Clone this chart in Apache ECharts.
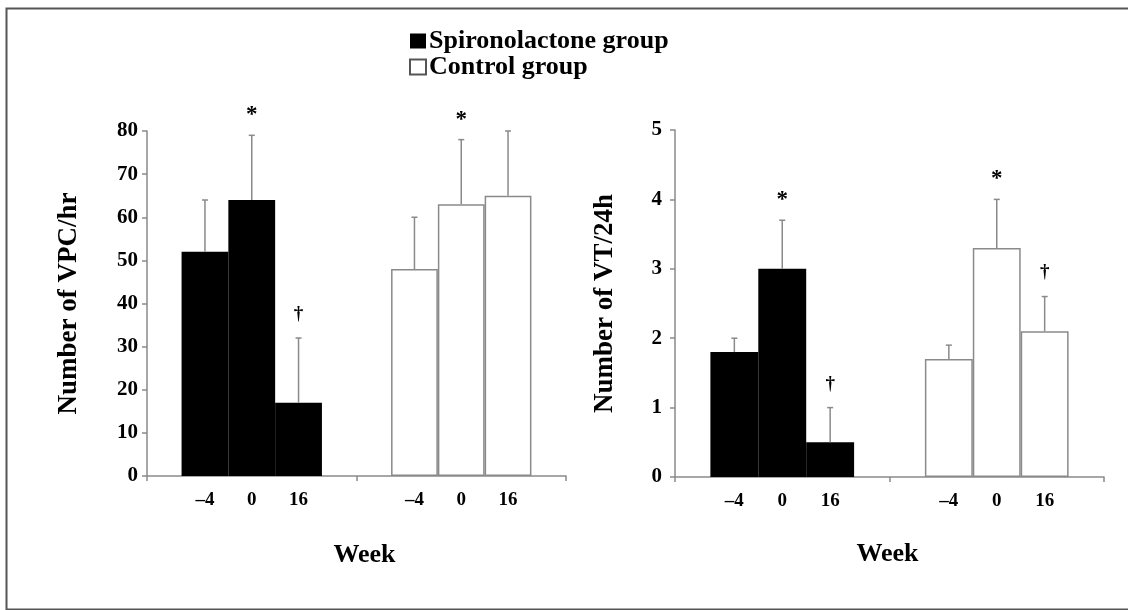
<!DOCTYPE html>
<html>
<head>
<meta charset="utf-8">
<script src="https://cdn.jsdelivr.net/npm/echarts@6/dist/echarts.min.js"></script>
<style>html,body{margin:0;padding:0;background:#fff}#c{width:1128px;height:610px}</style>
</head>
<body>
<div id="c"></div>
<script>
// ---- data ----
const groups = ['Spironolactone group', 'Control group'];
const weeks = ['\u20134', '0', '16'];
const vpcSpiro = [52, 64, 17];
const vpcSpiroErr = [64, 79, 32];
const vpcControl = [48, 63, 65];
const vpcControlErr = [60, 78, 80];
const vpcSpiroMarks = ['', '*', '\u2020'];
const vpcControlMarks = ['', '*', ''];
const vtSpiro = [1.8, 3.0, 0.5];
const vtSpiroErr = [2.0, 3.7, 1.0];
const vtControl = [1.7, 3.3, 2.1];
const vtControlErr = [1.9, 4.0, 2.6];
const vtSpiroMarks = ['', '*', '\u2020'];
const vtControlMarks = ['', '*', '\u2020'];
const vpcAxis = {min: 0, max: 80, interval: 10, name: 'Number of VPC/hr'};
const vtAxis = {min: 0, max: 5, interval: 1, name: 'Number of VT/24h'};
const xName = 'Week';

// ---- style ----
const FONT = '"Liberation Serif", "Times New Roman", serif';
const GAP = 0.33;
const AXIS_COLOR = '#8a8a8a';

const chart = echarts.init(document.getElementById('c'));

function panelSeries(idx, spiro, control, spiroErr, controlErr, spiroMarks, controlMarks) {
  const out = [];
  weeks.forEach((w, wi) => {
    out.push({
      type: 'bar', name: 'w' + idx + '_' + wi,
      xAxisIndex: idx, yAxisIndex: idx,
      barGap: '0%', barCategoryGap: (GAP * 100) + '%',
      data: [
        {value: spiro[wi], itemStyle: {color: '#000', borderColor: '#000', borderWidth: 0}},
        {value: control[wi], itemStyle: {color: '#fff', borderColor: '#8a8a8a', borderWidth: 1.5}}
      ],
      label: {show: true, position: 'bottom', distance: 15, formatter: w,
        color: '#000', fontFamily: FONT, fontWeight: 'bold', fontSize: 19},
      silent: true, z: 2
    });
  });
  const data = [], marks = [];
  [[spiro, spiroErr, spiroMarks], [control, controlErr, controlMarks]].forEach((arr, g) => {
    arr[0].forEach((v, wi) => {
      data.push([g, arr[1][wi], v, wi]);
      marks.push(arr[2][wi]);
    });
  });
  out.push({
    type: 'custom', xAxisIndex: idx, yAxisIndex: idx, z: 5, silent: true,
    data: data,
    renderItem: function (params, api) {
      const g = api.value(0), top = api.value(1), base = api.value(2), w = api.value(3);
      const band = api.size([1, 0])[0];
      const bw = band * (1 - GAP) / 3;
      const c = api.coord([g, top]);
      const b = api.coord([g, base]);
      const x = c[0] + (w - 1) * bw;
      const children = [
        {type: 'line', shape: {x1: x, y1: b[1], x2: x, y2: c[1]}, style: {stroke: AXIS_COLOR, lineWidth: 1.5}},
        {type: 'line', shape: {x1: x - 3, y1: c[1], x2: x + 3, y2: c[1]}, style: {stroke: AXIS_COLOR, lineWidth: 1.5}}
      ];
      const m = marks[params.dataIndex];
      if (m) {
        const isStar = m === '*';
        children.push({type: 'text', style: {
          text: m, x: x, y: c[1] - (isStar ? 20 : 24),
          fill: '#000', font: 'bold ' + (isStar ? 23 : 19) + 'px ' + FONT,
          align: 'center', verticalAlign: 'middle'}});
      }
      return {type: 'group', children: children};
    }
  });
  return out;
}

function xAxisDef(idx, gap, shift) {
  return {
    type: 'category', gridIndex: idx, data: groups,
    axisLine: {lineStyle: {color: AXIS_COLOR, width: 1.5}},
    axisTick: {show: true, length: 5, lineStyle: {color: AXIS_COLOR, width: 1.5}},
    axisLabel: {show: false},
    name: xName, nameLocation: 'middle', nameGap: gap,
    nameTextStyle: {color: '#000', fontFamily: FONT, fontWeight: 'bold', fontSize: 26,
      padding: shift > 0 ? [0, 0, 0, shift] : [0, -shift, 0, 0]}
  };
}
function yAxisDef(idx, ax, nameGap, labelMargin) {
  return {
    type: 'value', gridIndex: idx, min: ax.min, max: ax.max, interval: ax.interval,
    splitLine: {show: false},
    axisLine: {show: true, lineStyle: {color: AXIS_COLOR, width: 1.5}},
    axisTick: {show: true, length: 5, lineStyle: {color: AXIS_COLOR, width: 1.5}},
    axisLabel: {color: '#000', fontFamily: FONT, fontWeight: 'bold', fontSize: 21, margin: labelMargin},
    name: ax.name, nameLocation: 'middle', nameGap: nameGap, nameRotate: 90,
    nameTextStyle: {color: '#000', fontFamily: FONT, fontWeight: 'bold', fontSize: 27}
  };
}

const option = {
  backgroundColor: '#fff',
  animation: false,
  graphic: [{type: 'rect', left: 4, top: 6, silent: true,
    shape: {width: 1135, height: 601},
    style: {fill: 'none', stroke: '#555', lineWidth: 2}}],
  legend: {
    orient: 'vertical', left: 404, top: 23, itemWidth: 16, itemHeight: 15, itemGap: 0,
    icon: 'rect', selectedMode: false, data: groups,
    textStyle: {color: '#000', fontFamily: FONT, fontWeight: 'bold', fontSize: 26, lineHeight: 23, padding: [0, 0, 0, -2]}
  },
  grid: [
    {left: 147, top: 131, width: 419, height: 345},
    {left: 675, top: 130, width: 429, height: 347},
    {left: 0, top: 0, width: 1, height: 1, show: false}
  ],
  xAxis: [xAxisDef(0, 66, 16), xAxisDef(1, 64, -4), {type: 'category', gridIndex: 2, show: false, data: ['a']}],
  yAxis: [yAxisDef(0, vpcAxis, 64, 9), yAxisDef(1, vtAxis, 56, 13), {type: 'value', gridIndex: 2, show: false}],
  series: [
    ...panelSeries(0, vpcSpiro, vpcControl, vpcSpiroErr, vpcControlErr, vpcSpiroMarks, vpcControlMarks),
    ...panelSeries(1, vtSpiro, vtControl, vtSpiroErr, vtControlErr, vtSpiroMarks, vtControlMarks),
    {type: 'bar', name: groups[0], xAxisIndex: 2, yAxisIndex: 2, data: [],
      itemStyle: {color: '#000'}},
    {type: 'bar', name: groups[1], xAxisIndex: 2, yAxisIndex: 2, data: [],
      itemStyle: {color: '#fff', borderColor: '#555', borderWidth: 1.5}}
  ]
};
chart.setOption(option);
</script>
</body>
</html>
